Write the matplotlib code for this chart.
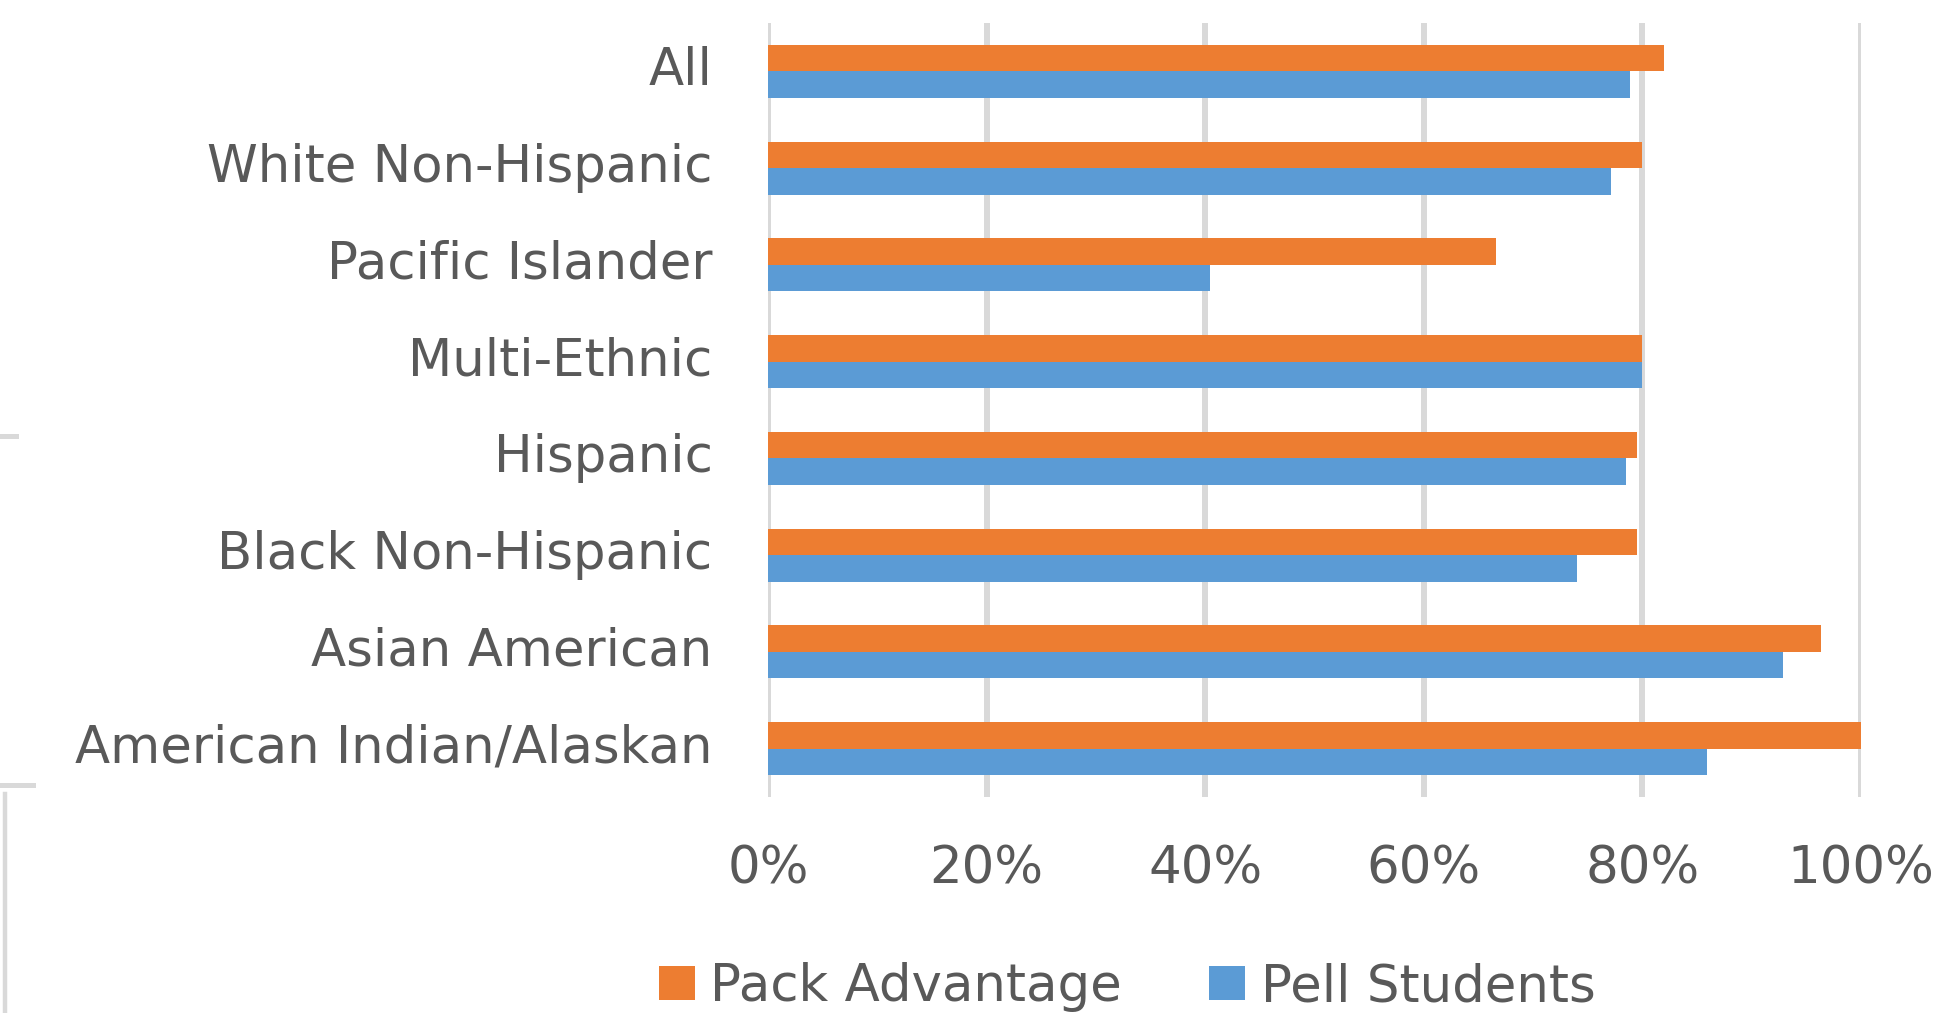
import numpy as np
import matplotlib
matplotlib.use("Agg")
import matplotlib.pyplot as plt
import matplotlib.transforms as mtransforms
from matplotlib.lines import Line2D
from matplotlib.patches import Patch

# data (top to bottom)
groups = ["All", "White Non-Hispanic", "Pacific Islander", "Multi-Ethnic",
          "Hispanic", "Black Non-Hispanic", "Asian American",
          "American Indian/Alaskan"]
pack_advantage = [82.0, 80.0, 66.6, 80.0, 79.5, 79.5, 96.3, 100.0]
pell_students = [78.9, 77.1, 40.4, 80.0, 78.5, 74.0, 92.9, 85.9]
x_ticks = [0, 20, 40, 60, 80, 100]
x_labels = ["0%", "20%", "40%", "60%", "80%", "100%"]

orange = "#ED7D31"
blue = "#5B9BD5"
grey_text = "#595959"
grid_col = "#D9D9D9"
fs = 37

W, H = 1944, 1013
fig = plt.figure(figsize=(W / 100, H / 100), dpi=100)
ax = fig.add_axes([768 / W, 1 - 797 / H, (1861 - 768) / W, (797 - 23) / H])

y = np.arange(len(groups))
h = 0.274
ax.barh(y - h / 2, pack_advantage, height=h, color=orange, zorder=3)
ax.barh(y + h / 2, pell_students, height=h, color=blue, zorder=3)

ax.set_xlim(0, 100)
ax.set_ylim(len(groups) - 0.5, -0.5)
ax.set_xticks(x_ticks)
ax.set_xticklabels(x_labels)
ax.set_yticks(y)
ax.set_yticklabels(groups)
ax.tick_params(axis="both", length=0, labelsize=fs, labelcolor=grey_text)
ax.tick_params(axis="y", pad=40)
ax.tick_params(axis="x", pad=34.5)

# nudge the category labels up a little
shift = mtransforms.ScaledTranslation(0, 6 / 100, fig.dpi_scale_trans)
for lab in ax.get_yticklabels():
    lab.set_transform(lab.get_transform() + shift)

for s in ax.spines.values():
    s.set_visible(False)
ax.grid(axis="x", color=grid_col, linewidth=4.3, zorder=0)

handles = [Patch(facecolor=orange, label="Pack Advantage"),
           Patch(facecolor=blue, label="Pell Students")]
leg = fig.legend(handles=handles, loc="center", ncol=2,
                 bbox_to_anchor=(1127 / W, 1 - 987 / H), frameon=False,
                 fontsize=fs, handlelength=0.7, handleheight=0.63,
                 handletextpad=0.3, columnspacing=1.7, borderpad=0)
for t in leg.get_texts():
    t.set_color(grey_text)

# stray border bits on the left edge of the screenshot
fig.add_artist(Line2D([0, 16 / W], [1 - 436 / H] * 2, color=grid_col,
                      linewidth=3.6, transform=fig.transFigure))
fig.add_artist(Line2D([0, 33 / W], [1 - 785 / H] * 2, color=grid_col,
                      linewidth=3.6, transform=fig.transFigure))
fig.add_artist(Line2D([4.5 / W] * 2, [1 - 794 / H, 0], color=grid_col,
                      linewidth=3.2, transform=fig.transFigure))

fig.savefig("out.png", dpi=100)
